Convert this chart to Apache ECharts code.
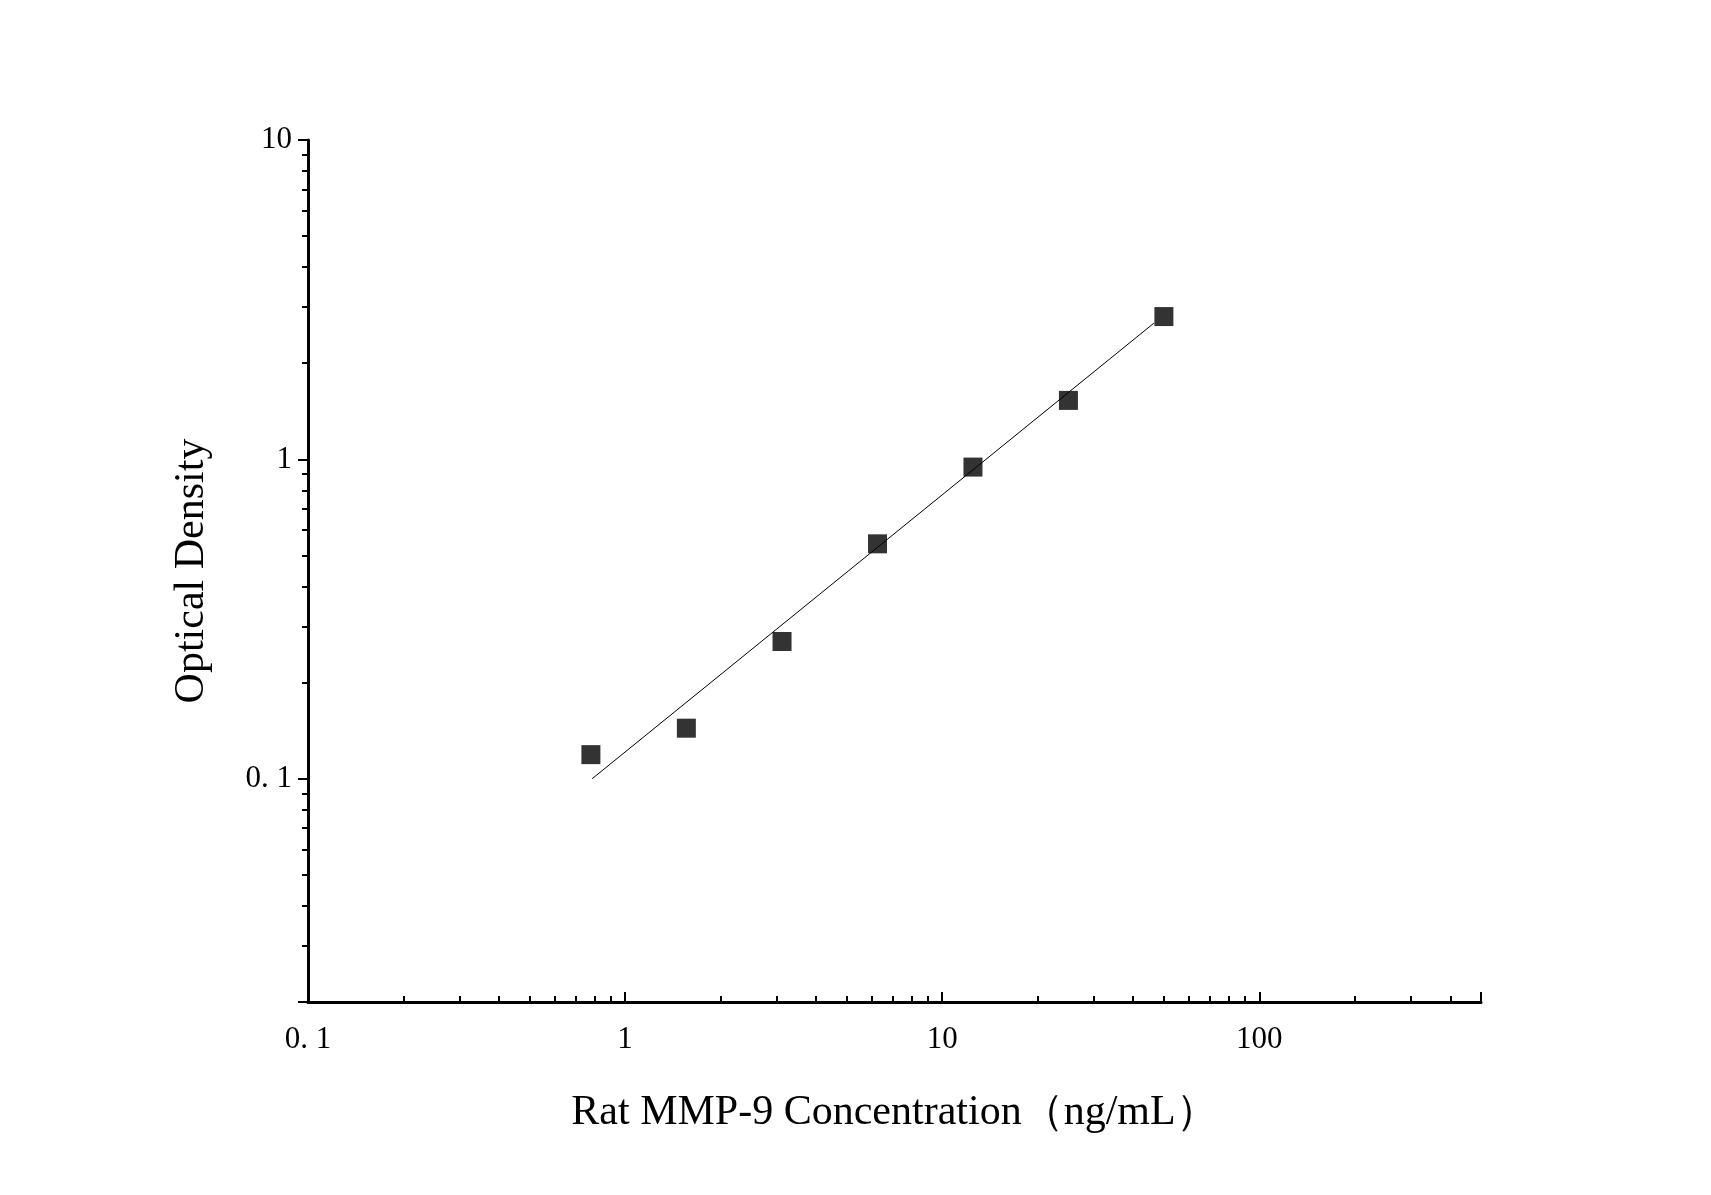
<!DOCTYPE html>
<html>
<head>
<meta charset="utf-8">
<script src="https://cdn.jsdelivr.net/npm/echarts@6/dist/echarts.min.js"></script>
<style>html,body{margin:0;background:#fff}#c{width:1711px;height:1195px}</style>
</head>
<body>
<div id="c"></div>
<script>
// standard curve points
const concentrations = [0.78, 1.56, 3.125, 6.25, 12.5, 25, 50];
const densities = [0.119, 0.144, 0.269, 0.544, 0.946, 1.53, 2.80];
// fitted line endpoints
const fitX = [0.787, 46.5];
const fitY = [0.1, 2.67];

const isDecade = v => Math.abs(Math.log10(v) - Math.round(Math.log10(v))) < 1e-6;
const fmt = v => isDecade(v) ? (v < 1 ? '0. 1' : String(Math.round(v))) : '';
const font = 'Liberation Serif, Times New Roman, serif';

const chart = echarts.init(document.getElementById('c'));
chart.setOption({
    backgroundColor: '#fff',
    animation: false,
    grid: { left: 308, right: 230, top: 140, bottom: 193 },
    xAxis: {
        type: 'log', min: 0.1, max: 500, logBase: 10,
        name: 'Rat MMP-9 Concentration\uFF08ng/mL\uFF09',
        nameLocation: 'middle', nameGap: 90,
        nameTextStyle: { fontFamily: font, fontSize: 42, color: '#000' },
        axisLine: { lineStyle: { color: '#000', width: 3 } },
        axisTick: { inside: true, length: 10, lineStyle: { color: '#000', width: 2 } },
        minorTick: { show: true, splitNumber: 9, length: 6, lineStyle: { color: '#000', width: 2 } },
        axisLabel: { formatter: fmt, fontFamily: font, fontSize: 31, color: '#000', margin: 22 },
        splitLine: { show: false }
    },
    yAxis: {
        type: 'log', min: 0.02, max: 10, logBase: 10,
        name: 'Optical Density',
        nameLocation: 'middle', nameGap: 95,
        nameTextStyle: { fontFamily: font, fontSize: 42, color: '#000' },
        axisLine: { lineStyle: { color: '#000', width: 3 } },
        axisTick: { inside: false, length: 10, lineStyle: { color: '#000', width: 2 } },
        minorTick: { show: true, splitNumber: 9, length: 6, lineStyle: { color: '#000', width: 2 } },
        axisLabel: { formatter: fmt, fontFamily: font, fontSize: 31, color: '#000', margin: 16 },
        splitLine: { show: false }
    },
    series: [
        {
            type: 'line',
            data: fitX.map((x, i) => [x, fitY[i]]),
            symbol: 'none',
            lineStyle: { color: '#000', width: 1 }
        },
        {
            type: 'scatter',
            data: concentrations.map((x, i) => [x, densities[i]]),
            symbol: 'rect', symbolSize: 19,
            itemStyle: { color: '#000' }
        }
    ]
});
</script>
</body>
</html>
